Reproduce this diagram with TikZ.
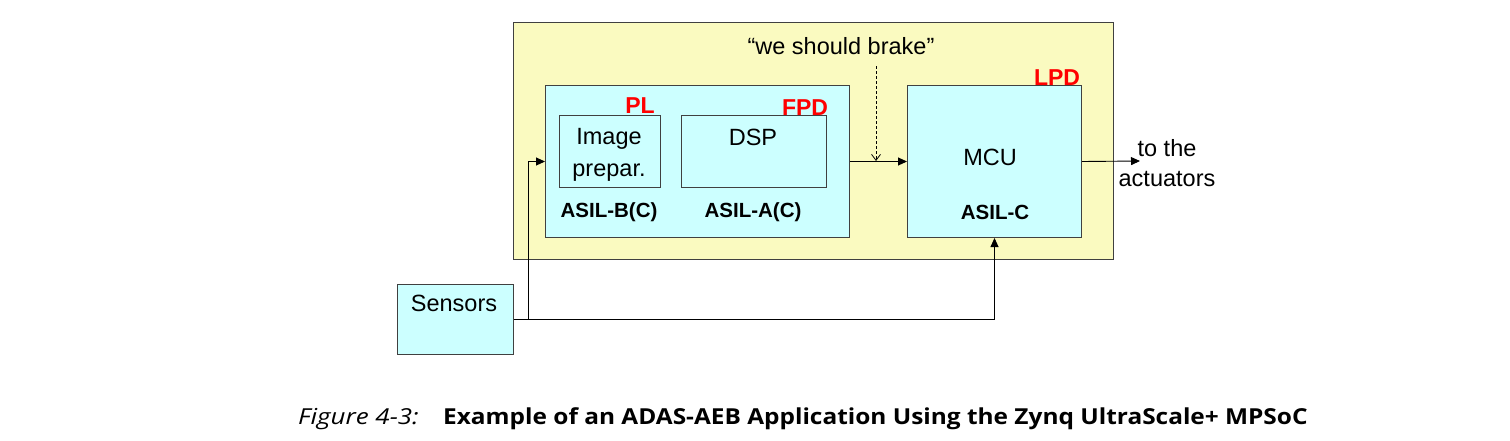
\documentclass[tikz,border=0pt]{standalone}
\usepackage{fontspec}
\setmainfont{Liberation Sans}
\newfontfamily\capfont{Open Sans}
\usetikzlibrary{arrows.meta}
\definecolor{ylw}{RGB}{250,250,192}
\definecolor{cyn}{RGB}{204,255,255}
\definecolor{edgec}{RGB}{64,64,64}
\definecolor{redl}{RGB}{255,0,0}
\begin{document}
\begin{tikzpicture}[x=1pt,y=-1pt,
  box/.style={draw=edgec, line width=1pt, inner sep=0pt, anchor=north west},
  txt/.style={inner sep=0pt, font=\fontsize{23.5}{28}\selectfont, align=center},
  asil/.style={inner sep=0pt, font=\fontsize{20.5}{24}\selectfont\bfseries},
  redlab/.style={inner sep=0pt, text=redl, font=\fontsize{23}{26}\selectfont\bfseries},
  arr/.style={draw=black, line width=0.9pt, -{Triangle[length=9pt,width=8pt]}},
  darr/.style={draw=black, line width=0.8pt, dashed, dash pattern=on 3pt off 2pt, -{Straight Barb[length=6pt,width=9pt,line width=0.8pt]}},
  captxt/.style={inner sep=0pt, anchor=base west}
]
\useasboundingbox (0,0) rectangle (1510,440);
% boxes
\node[box, fill=ylw, minimum width=600pt, minimum height=237pt] (soc) at (513,22) {};
\node[box, fill=cyn, minimum width=304pt, minimum height=152pt] (fpd) at (545,85) {};
\node[box, fill=cyn, minimum width=101pt, minimum height=72pt] (img) at (559,115) {};
\node[box, fill=cyn, minimum width=145pt, minimum height=72pt] (dsp) at (681,115) {};
\node[box, fill=cyn, minimum width=174pt, minimum height=152pt] (mcu) at (907,85) {};
\node[box, fill=cyn, minimum width=116pt, minimum height=70pt] (sens) at (397,284) {};
% texts
\node[txt, font=\fontsize{23.5}{32}\selectfont] (imgt) at (609,154.5) {Image\\prepar.};
\node[txt] (dspt) at (753,137) {DSP};
\node[txt] (mcut) at (990,157) {MCU};
\node[txt] (senst) at (454,303) {Sensors};
\node[txt] (brake) at (841,46) {“we should brake”};
\node[txt, font=\fontsize{23.5}{30}\selectfont] (actt) at (1167,163) {to the\\actuators};
\node[asil] (asb) at (609,212) {ASIL-B(C)};
\node[asil] (asa) at (753,212) {ASIL-A(C)};
\node[asil] (asc) at (995,212) {ASIL-C};
\node[redlab] (pl) at (640,106) {PL};
\node[redlab] (fpdl) at (805,108) {FPD};
\node[redlab] (lpd) at (1057,78) {LPD};
% connectors
\coordinate (act) at (1140,161);
\coordinate (brk1) at (876,66);
\coordinate (brk2) at (876,161);
\draw[arr] (sens.east) -- ++(14,0) |- (fpd.west);
\draw[arr] (sens.east) -| (mcu.south);
\draw[arr] (fpd.east) -- (mcu.west);
\draw[arr] (mcu.east) -- (act);
\draw[darr] (brk1) -- (brk2);
% caption
\node[captxt, font=\capfont\fontsize{22}{24}\selectfont\itshape] (capn) at (298,424) {\scalebox{1.18}[1]{Figure 4-3:}};
\node[captxt, font=\capfont\fontsize{22}{24}\selectfont\bfseries] (capt) at (443,424) {\scalebox{1.11}[1]{Example of an ADAS-AEB Application Using the Zynq UltraScale+ MPSoC}};
\end{tikzpicture}
\end{document}
